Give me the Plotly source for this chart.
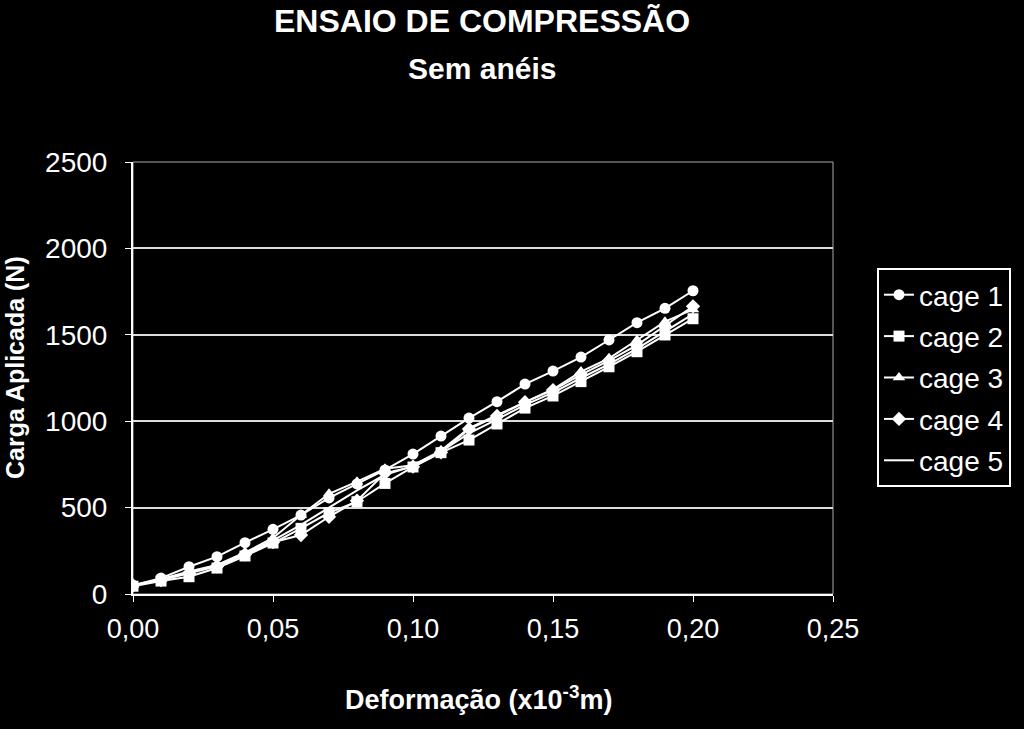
import plotly.graph_objects as go

deformacao = [0.00, 0.01, 0.02, 0.03, 0.04, 0.05, 0.06, 0.07, 0.08, 0.09, 0.10,
              0.11, 0.12, 0.13, 0.14, 0.15, 0.16, 0.17, 0.18, 0.19, 0.20]
cage1 = [50, 92, 158, 216, 297, 374, 457, 556, 637, 718, 810,
         914, 1018, 1113, 1215, 1290, 1371, 1470, 1570, 1653, 1755]
cage2 = [45, 75, 100, 150, 220, 295, 380, 470, 534, 640, 735,
         818, 891, 984, 1076, 1146, 1229, 1315, 1402, 1499, 1593]
cage3 = [50, 85, 130, 168, 240, 324, 457, 580, 650, 725, 745,
         830, 960, 1035, 1110, 1185, 1287, 1364, 1470, 1576, 1647]
cage4 = [50, 80, 120, 160, 230, 300, 341, 447, 540, 700, 737,
         820, 955, 1030, 1110, 1180, 1270, 1350, 1440, 1550, 1665]
cage5 = [48, 85, 125, 165, 235, 310, 400, 500, 600, 690, 740,
         825, 930, 1010, 1095, 1165, 1250, 1330, 1420, 1520, 1620]

series = [("cage 1", cage1, "circle"), ("cage 2", cage2, "square"),
          ("cage 3", cage3, "triangle-up"), ("cage 4", cage4, "diamond"),
          ("cage 5", cage5, None)]

FONT = "Liberation Sans, Arial, sans-serif"
fig = go.Figure()
for i, (name, vals, sym) in enumerate(series):
    if sym:
        fig.add_trace(go.Scatter(x=deformacao, y=vals, name=name, mode="lines+markers",
                                 line=dict(color="white", width=2),
                                 marker=dict(symbol=sym, size=11, color="white"),
                                 legendgroup=name))
    else:
        fig.add_trace(go.Scatter(x=deformacao, y=vals, name=name, mode="lines",
                                 line=dict(color="white", width=2), legendgroup=name))

L, R, T, B = 133, 191, 162, 135
def px(x):
    return (x - L) / (1024 - L - R)
def py(y):
    return (729 - B - y) / (729 - T - B)

fig.update_layout(
    width=1024, height=729,
    margin=dict(l=L, r=R, t=T, b=B),
    paper_bgcolor="black", plot_bgcolor="black",
    separators=",.",
    font=dict(family=FONT, color="white", size=26),
    showlegend=True,
    legend=dict(x=px(877), y=py(268), xanchor="left", yanchor="top",
                bgcolor="black", bordercolor="white", borderwidth=2,
                font=dict(size=28, color="white"), tracegroupgap=2,
                itemwidth=30),
    annotations=[
        dict(text="<b>ENSAIO DE COMPRESSÃO</b>", x=px(482), y=py(21), xref="paper", yref="paper",
             showarrow=False, font=dict(size=32), xanchor="center", yanchor="middle"),
        dict(text="<b>Sem anéis</b>", x=px(482), y=py(68), xref="paper", yref="paper",
             showarrow=False, font=dict(size=30), xanchor="center", yanchor="middle"),
        dict(text="<b>Deformação (x10<sup>-3</sup>m)</b>", x=px(478), y=py(698), xref="paper", yref="paper",
             showarrow=False, font=dict(size=27), xanchor="center", yanchor="middle"),
        dict(text="<b>Carga Aplicada (N)</b>", x=px(15), y=py(368), xref="paper", yref="paper",
             showarrow=False, font=dict(size=25), textangle=-90, xanchor="center", yanchor="middle"),
    ],
)
fig.update_xaxes(range=[0, 0.25], dtick=0.05, tick0=0, tickformat=".2f",
                 showgrid=False, zeroline=False,
                 showline=True, linecolor="white", linewidth=2, mirror=False,
                 ticks="outside", ticklen=6, tickcolor="white",
                 ticklabelstandoff=4,
                 tickfont=dict(size=27))
fig.update_yaxes(range=[0, 2500], dtick=500, tick0=0,
                 showgrid=True, gridcolor="#dddddd", gridwidth=1.5, zeroline=False,
                 showline=True, linecolor="white", linewidth=2,
                 ticks="outside", ticklen=6, tickcolor="white",
                 ticklabelstandoff=12,
                 tickfont=dict(size=28))
# plot-area border
fig.add_shape(type="rect", xref="paper", yref="paper", x0=0, y0=0, x1=1, y1=1,
              line=dict(color="#aaaaaa", width=1), layer="below")
fig.write_html("out.html")
